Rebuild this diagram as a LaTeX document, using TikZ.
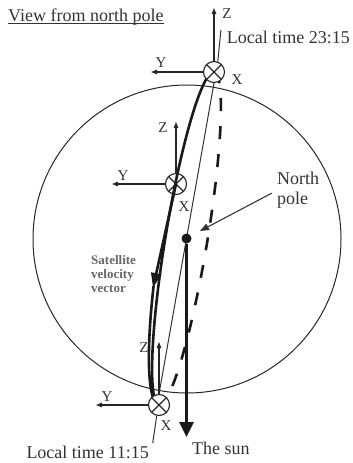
\documentclass[tikz,border=0pt]{standalone}
\usepackage{fontspec}
\setmainfont{Liberation Serif}
\usetikzlibrary{arrows.meta, positioning, calc}

\begin{document}
\begin{tikzpicture}[
    x=1pt, y=-1pt,
    font=\fontsize{18}{20}\selectfont,
    % Text and labels
    txt/.style={text=black!80, inner sep=0pt},
    timelab/.style={text=black!80, inner sep=0pt, font=\fontsize{18}{20}\selectfont},
    axlab/.style={text=black!80, inner sep=0pt, font=\fontsize{15}{15}\selectfont},
    % Satellites and axes
    sat/.style={circle, draw=black!85, line width=1.1pt, fill=white, minimum size=21pt, inner sep=0pt},
    satx/.style={draw=black!85, line width=1.1pt},
    axis/.style={draw=black!85, line width=1.1pt, -{Triangle[length=6pt,width=4.5pt]}},
    % Orbit and arrows
    orbit/.style={draw=black!90, line width=2.6pt},
    farorbit/.style={draw=black!90, line width=2.6pt, dash pattern=on 13pt off 15pt},
    plane/.style={draw=black!80, line width=1pt},
    velarr/.style={draw=black!90, line width=2.6pt, -{Triangle[length=15pt,width=10pt]}},
    sunarr/.style={draw=black!90, line width=2.6pt, -{Triangle[length=15pt,width=14pt]}},
    ptr/.style={draw=black!80, line width=1.1pt, shorten <=6pt, -{Triangle[length=9pt,width=7pt]}}
]
\useasboundingbox (0,0) rectangle (353,463);

% ===============================
% Earth seen from the north pole
% ===============================
\draw[black!85, line width=1pt] (187,239) circle[radius=154pt];

% Orbit: near half solid, far half dashed
\draw[orbit] plot[domain=0:180, samples=72, variable=\t]
    ({186.5+168.8*cos(\t)*0.163-21*sin(\t)*0.986}, {238.5-168.8*cos(\t)*0.986-21*sin(\t)*0.163});
\draw[orbit] plot[domain=108:180, samples=40, variable=\t]
    ({186.5+168.8*cos(\t)*0.163-26*sin(\t)*0.986}, {238.5-168.8*cos(\t)*0.986-26*sin(\t)*0.163});
\draw[farorbit] plot[domain=360:180, samples=72, variable=\t]
    ({186.5+168.8*cos(\t)*0.163-21*sin(\t)*0.986}, {238.5-168.8*cos(\t)*0.986-21*sin(\t)*0.163});

% Satellites
\node[sat] (sat1) at (214,72) {};
\node[sat, fill=none] (sat2) at (176,184) {};
\node[sat] (sat3) at (159,405) {};

% Orbit plane through the pole, out to both time labels
\node[timelab, anchor=east] (lt1) at (350,37) {Local time 23:15};
\node[timelab, anchor=east] (lt2) at (149,452) {Local time 11:15};
\draw[plane] ($(sat3)!1.126!(sat1)$) -- (sat1.70);
\draw[plane] (sat1.south) -- (sat3.north);
\draw[plane] (sat3.258) -- ($(sat3)!-0.114!(sat1)$);

\foreach \s in {sat1,sat2,sat3}
    \draw[satx] (\s.north east) -- (\s.south west) (\s.north west) -- (\s.south east);

% Satellite axes
\coordinate (z1) at (214,8);
\coordinate (y1) at (151,72);
\draw[axis] (sat1.north) -- (z1);
\draw[axis] (sat1.west) -- (y1);
\node[axlab] (zl1) at (227,14) {Z};
\node[axlab] (yl1) at (161,63) {Y};
\node[axlab] (xl1) at (237,80) {X};

\coordinate (z2) at (176,122);
\coordinate (y2) at (112,184);
\draw[axis] (sat2.north) -- (z2);
\draw[axis] (sat2.west) -- (y2);
\node[axlab] (zl2) at (163,128) {Z};
\node[axlab] (yl2) at (123,176) {Y};
\node[axlab] (xl2) at (184,207) {X};

\coordinate (z3) at (159,342);
\coordinate (y3) at (96,405);
\draw[axis] (sat3.north) -- (z3);
\draw[axis] (sat3.west) -- (y3);
\node[axlab] (zl3) at (144,348) {Z};
\node[axlab] (yl3) at (107,397) {Y};
\node[axlab] (xl3) at (166,426) {X};

% Velocity vector
\coordinate (vtip) at (153,288);
\draw[velarr] (sat2.center) -- (vtip);
\node[txt, text=black!60, font=\fontsize{13}{14}\selectfont\bfseries, align=left, anchor=north west] (vlab) at (91,255) {Satellite\\velocity\\vector};

% North pole and the sun
\node[circle, fill=black!90, minimum size=10pt, inner sep=0pt] (pole) at (186.5,238.5) {};
\coordinate (sun) at (186.5,437);
\draw[sunarr] (pole) -- (sun);
\node[txt, anchor=west] (sunlab) at (192,448) {The sun};

\node[txt, align=left, anchor=north west] (nplab) at (277,172) {North\\pole};
\coordinate (nptip) at (200,231);
\draw[ptr] (nplab.west) -- (nptip);

% Title
\node[txt, anchor=west] (title) at (8,17) {View from north pole};
\draw[black!80, line width=0.8pt] ([yshift=-2pt]title.base west) -- ([yshift=-2pt]title.base east);
\end{tikzpicture}
\end{document}
